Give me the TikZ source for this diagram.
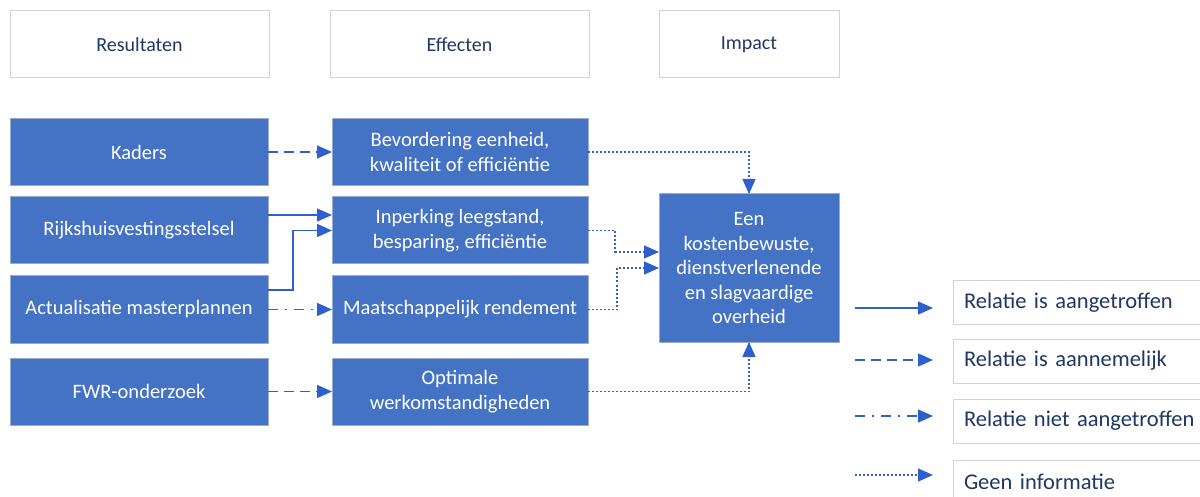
\documentclass[tikz,border=0pt]{standalone}
\usepackage{fontspec}
\setmainfont{Carlito}
\usetikzlibrary{arrows.meta, positioning}

\definecolor{boxblue}{RGB}{68,114,196}
\definecolor{lineblue}{RGB}{46,95,204}
\definecolor{navy}{RGB}{31,56,100}
\definecolor{rim}{RGB}{210,210,210}

\begin{document}
\begin{tikzpicture}[x=1pt, y=-1pt, >={Triangle[length=15pt,width=13pt]},
  header/.style = {draw=rim, line width=1pt, fill=white, text=navy,
    minimum height=67pt, outer sep=0pt, font=\fontsize{20}{24}\selectfont},
  block/.style = {draw=rim!60!boxblue, line width=1pt, fill=boxblue, text=white,
    minimum height=67pt, outer sep=0pt, align=center,
    font=\fontsize{20.5}{24.5}\selectfont},
  legendbox/.style = {draw=rim, line width=1pt, fill=white, text=navy,
    minimum width=270pt, minimum height=44pt, outer sep=0pt,
    text width=248pt, align=left, font=\fontsize{22.5}{26}\selectfont},
  link/.style = {lineblue, line width=1.5pt, ->},
  aangetroffen/.style = {link},
  aannemelijk/.style = {link, dash pattern=on 10pt off 6pt},
  nietaangetroffen/.style = {link, dash pattern=on 10pt off 7pt on 2pt off 7pt},
  geeninfo/.style = {link, dash pattern=on 2pt off 2pt}]

\useasboundingbox (0,0) rectangle (1200,497);

% kolomkoppen
\node[header, minimum width=259pt] (resultaten) at (139.5,44.5) {Resultaten};
\node[header, minimum width=259pt] (effecten)   at (459.5,44.5) {Effecten};
\node[header, minimum width=180pt] (impacthdr)  at (749,44.5)   {Impact};

% resultaten
\node[block, minimum width=258pt] (kaders)     at (139,152)   {Kaders};
\node[block, minimum width=258pt] (stelsel)    at (139,230.5) {Rijkshuisvestingsstelsel};
\node[block, minimum width=258pt] (master)     at (139,309.5) {Actualisatie masterplannen};
\node[block, minimum width=258pt] (fwr)        at (139,391.5) {FWR-onderzoek};

% effecten
\node[block, minimum width=256pt] (eenheid)    at (460,152)   {Bevordering eenheid,\\kwaliteit of efficiëntie};
\node[block, minimum width=256pt] (leegstand)  at (460,230.5) {Inperking leegstand,\\besparing, efficiëntie};
\node[block, minimum width=256pt] (rendement)  at (460,309.5) {Maatschappelijk rendement};
\node[block, minimum width=256pt] (werk)       at (460,391.5) {Optimale\\werkomstandigheden};

% impact
\node[block, minimum width=180pt, minimum height=148pt] (overheid) at (749,268)
  {Een\\kostenbewuste,\\dienstverlenende\\en slagvaardige\\overheid};

% relaties
\draw[aannemelijk] (kaders) -- (eenheid);
\draw[aangetroffen] ([yshift=15.5pt]stelsel.east) -- ([yshift=15.5pt]leegstand.west);
\draw[aangetroffen] ([yshift=19.5pt]master.east) -- ++(25,0) |- (leegstand.west);
\draw[nietaangetroffen] (master) -- (rendement);
\draw[aannemelijk] (fwr) -- (werk);

\draw[geeninfo] (eenheid.east) -| (overheid.north);
\draw[geeninfo] (leegstand.east) -- ++(27,0) |- ([yshift=16pt]overheid.west);
\draw[geeninfo] (rendement.east) -- ++(29,0) |- (overheid.west);
\draw[geeninfo] (werk.east) -| (overheid.south);

% legenda
\node[legendbox, anchor=west] (leg1) at (953,302.5) {Relatie is aangetroffen};
\node[legendbox, anchor=west] (leg2) at (953,361)   {Relatie is aannemelijk};
\node[legendbox, anchor=west] (leg3) at (953,421)   {Relatie niet aangetroffen};
\node[legendbox, anchor=west] (leg4) at (953,482)   {Geen informatie};

\coordinate (a1) at (855,308);  \coordinate (b1) at (933,308);
\coordinate (a2) at (855,360);  \coordinate (b2) at (933,360);
\coordinate (a3) at (855,416);  \coordinate (b3) at (933,416);
\coordinate (a4) at (855,475);  \coordinate (b4) at (933,475);

\draw[aangetroffen]     (a1) -- (b1);
\draw[aannemelijk]      (a2) -- (b2);
\draw[nietaangetroffen] (a3) -- (b3);
\draw[geeninfo]         (a4) -- (b4);

\end{tikzpicture}
\end{document}
